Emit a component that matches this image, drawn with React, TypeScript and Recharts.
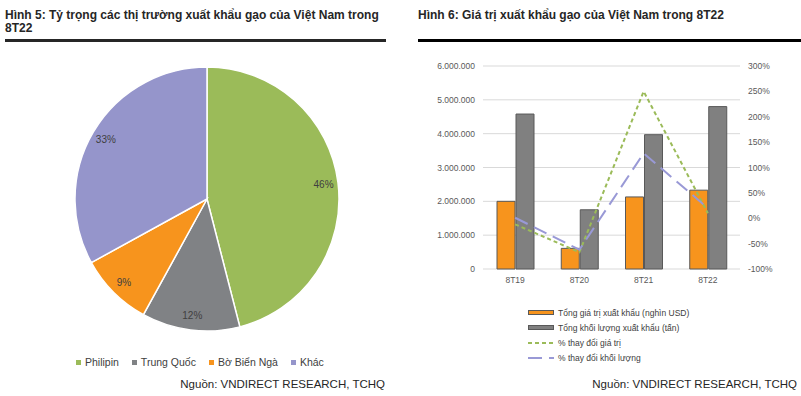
import React from "react";
import {
  PieChart,
  Pie,
  Cell,
  Legend,
  ComposedChart,
  Bar,
  Line,
  XAxis,
  YAxis,
  CartesianGrid,
} from "recharts";

// Hình 5: thị phần xuất khẩu gạo 8T22 (%)
const marketNames = ["Philipin", "Trung Quốc", "Bờ Biển Ngà", "Khác"];
const marketShares = [46, 12, 9, 33];
const marketColors = ["#9BBB59", "#808285", "#F7941D", "#9595CB"];

// Hình 6: giá trị / khối lượng xuất khẩu
const periods = ["8T19", "8T20", "8T21", "8T22"];
const exportValue = [2000000, 610000, 2130000, 2330000]; // nghìn USD
const exportVolume = [4580000, 1750000, 3970000, 4800000]; // tấn
const valueChange = [-0.12, -0.67, 2.5, 0.1];
const volumeChange = [0.01, -0.62, 1.28, 0.2];
const leftTicks = [0, 1000000, 2000000, 3000000, 4000000, 5000000, 6000000];
const rightTicks = [-1, -0.5, 0, 0.5, 1, 1.5, 2, 2.5, 3];

const FONT = '"Liberation Sans", Arial, sans-serif';
const TEXT = "#404040";
const AXIS_TEXT = "#595959";

const pieData = marketNames.map((name, i) => ({ name, value: marketShares[i] }));

const barData = periods.map((p, i) => ({
  period: p,
  value: exportValue[i],
  volume: exportVolume[i],
  valueChg: valueChange[i],
  volumeChg: volumeChange[i],
}));

const RADIAN = Math.PI / 180;

function renderPieLabel(props: any) {
  const { cx, cy, midAngle, outerRadius, value } = props;
  const r = outerRadius * 0.89;
  const x = cx + r * Math.cos(-midAngle * RADIAN);
  const y = cy + r * Math.sin(-midAngle * RADIAN);
  return (
    <text
      x={x}
      y={y}
      fill={TEXT}
      fontSize={10}
      textAnchor="middle"
      dominantBaseline="central"
    >
      {value}%
    </text>
  );
}

function PieLegend() {
  return (
    <div style={{ display: "flex", alignItems: "center", fontSize: 10.5, color: TEXT }}>
      {marketNames.map((name, i) => (
        <div key={name} style={{ display: "flex", alignItems: "center", marginRight: 13 }}>
          <span
            style={{
              display: "inline-block",
              width: 5,
              height: 5,
              background: marketColors[i],
              marginRight: 4,
            }}
          />
          <span>{name}</span>
        </div>
      ))}
    </div>
  );
}

function ComboLegend() {
  const row = { display: "flex", alignItems: "center", height: 15 } as const;
  const label = { marginLeft: 4, fontSize: 8.5, color: TEXT } as const;
  return (
    <div>
      <div style={row}>
        <span style={{ width: 24, height: 3, background: "#F7941D", border: "1px solid #595959" }} />
        <span style={label}>Tổng giá trị xuất khẩu (nghìn USD)</span>
      </div>
      <div style={row}>
        <span style={{ width: 24, height: 3, background: "#808080", border: "1px solid #595959" }} />
        <span style={label}>Tổng khối lượng xuất khẩu (tấn)</span>
      </div>
      <div style={row}>
        <svg width={26} height={4}>
          <line x1={0} y1={2} x2={26} y2={2} stroke="#9BBB59" strokeWidth={2} strokeDasharray="4 3" />
        </svg>
        <span style={label}>% thay đổi giá trị</span>
      </div>
      <div style={row}>
        <svg width={26} height={4}>
          <line x1={0} y1={2} x2={26} y2={2} stroke="#9999D6" strokeWidth={2} strokeDasharray="14 7" />
        </svg>
        <span style={label}>% thay đổi khối lượng</span>
      </div>
    </div>
  );
}

const fmtThousands = (v: number) => String(v).replace(/\B(?=(\d{3})+(?!\d))/g, ".");
const fmtPct = (v: number) => `${Math.round(v * 100)}%`;

export default function App() {
  return (
    <div
      style={{
        position: "absolute",
        left: 0,
        top: 0,
        width: 801,
        height: 396,
        background: "#fff",
        fontFamily: FONT,
        overflow: "hidden",
      }}
    >
      {/* Hình 5 */}
      <div
        style={{
          position: "absolute",
          left: 5,
          top: 9,
          width: 385,
          fontSize: 12,
          lineHeight: "13px",
          fontWeight: 700,
          color: "#262626",
        }}
      >
        Hình 5: Tỷ trọng các thị trường xuất khẩu gạo của Việt Nam trong 8T22
      </div>
      <div style={{ position: "absolute", left: 5, top: 39, width: 381, height: 3, background: "#262626" }} />

      <div style={{ position: "absolute", left: 0, top: 0 }}>
        <PieChart width={400} height={396} margin={{ top: 0, right: 0, bottom: 0, left: 0 }}>
          <Pie
            data={pieData}
            dataKey="value"
            nameKey="name"
            cx={207}
            cy={199}
            outerRadius={132}
            startAngle={90}
            endAngle={-270}
            stroke="#fff"
            strokeWidth={1.5}
            label={renderPieLabel}
            labelLine={false}
            isAnimationActive={false}
          >
            {pieData.map((d, i) => (
              <Cell key={d.name} fill={marketColors[i]} />
            ))}
          </Pie>
          <Legend
            layout="horizontal"
            verticalAlign="middle"
            align="center"
            content={<PieLegend />}
            wrapperStyle={{ left: 76, top: 356, width: 320 }}
          />
        </PieChart>
      </div>

      <div
        style={{
          position: "absolute",
          right: 416,
          top: 378,
          fontSize: 11.5,
          color: "#262626",
        }}
      >
        Nguồn: VNDIRECT RESEARCH, TCHQ
      </div>

      {/* Hình 6 */}
      <div
        style={{
          position: "absolute",
          left: 418,
          top: 9,
          fontSize: 12,
          lineHeight: "13px",
          fontWeight: 700,
          color: "#262626",
        }}
      >
        Hình 6: Giá trị xuất khẩu gạo của Việt Nam trong 8T22
      </div>
      <div style={{ position: "absolute", left: 418, top: 39, width: 383, height: 3, background: "#000" }} />

      <div style={{ position: "absolute", left: 420, top: 50 }}>
        <ComposedChart
          width={381}
          height={320}
          data={barData}
          margin={{ top: 16, right: 0, left: 0, bottom: 81 }}
          barGap={1}
        >
          <CartesianGrid yAxisId="left" vertical={false} stroke="#D9D9D9" />
          <XAxis
            dataKey="period"
            axisLine={false}
            tickLine={false}
            height={20}
            tick={{ fontSize: 8.5, fill: AXIS_TEXT }}
          />
          <YAxis
            yAxisId="left"
            domain={[0, 6000000]}
            ticks={leftTicks}
            width={63}
            axisLine={false}
            tickLine={false}
            interval={0}
            tickFormatter={fmtThousands}
            tick={{ fontSize: 8.5, fill: AXIS_TEXT }}
          />
          <YAxis
            yAxisId="right"
            orientation="right"
            domain={[-1, 3]}
            ticks={rightTicks}
            width={61}
            axisLine={false}
            tickLine={false}
            interval={0}
            tickFormatter={fmtPct}
            tick={{ fontSize: 8.5, fill: AXIS_TEXT, textAnchor: "start" }}
          />
          <Bar
            yAxisId="left"
            dataKey="value"
            name="Tổng giá trị xuất khẩu (nghìn USD)"
            fill="#F7941D"
            stroke="#595959"
            strokeWidth={1}
            barSize={18}
            isAnimationActive={false}
          />
          <Bar
            yAxisId="left"
            dataKey="volume"
            name="Tổng khối lượng xuất khẩu (tấn)"
            fill="#808080"
            stroke="#595959"
            strokeWidth={1}
            barSize={18}
            isAnimationActive={false}
          />
          <Line
            yAxisId="right"
            dataKey="valueChg"
            name="% thay đổi giá trị"
            stroke="#9BBB59"
            strokeWidth={2}
            strokeDasharray="4 3"
            dot={false}
            type="linear"
            isAnimationActive={false}
          />
          <Line
            yAxisId="right"
            dataKey="volumeChg"
            name="% thay đổi khối lượng"
            stroke="#9999D6"
            strokeWidth={2}
            strokeDasharray="14 7"
            dot={false}
            type="linear"
            isAnimationActive={false}
          />
          <Legend
            layout="horizontal"
            verticalAlign="middle"
            align="center"
            content={<ComboLegend />}
            wrapperStyle={{ left: 108, top: 255, width: 220 }}
          />
        </ComposedChart>
      </div>

      <div
        style={{
          position: "absolute",
          right: 4,
          top: 378,
          fontSize: 11.5,
          color: "#262626",
        }}
      >
        Nguồn: VNDIRECT RESEARCH, TCHQ
      </div>
    </div>
  );
}
